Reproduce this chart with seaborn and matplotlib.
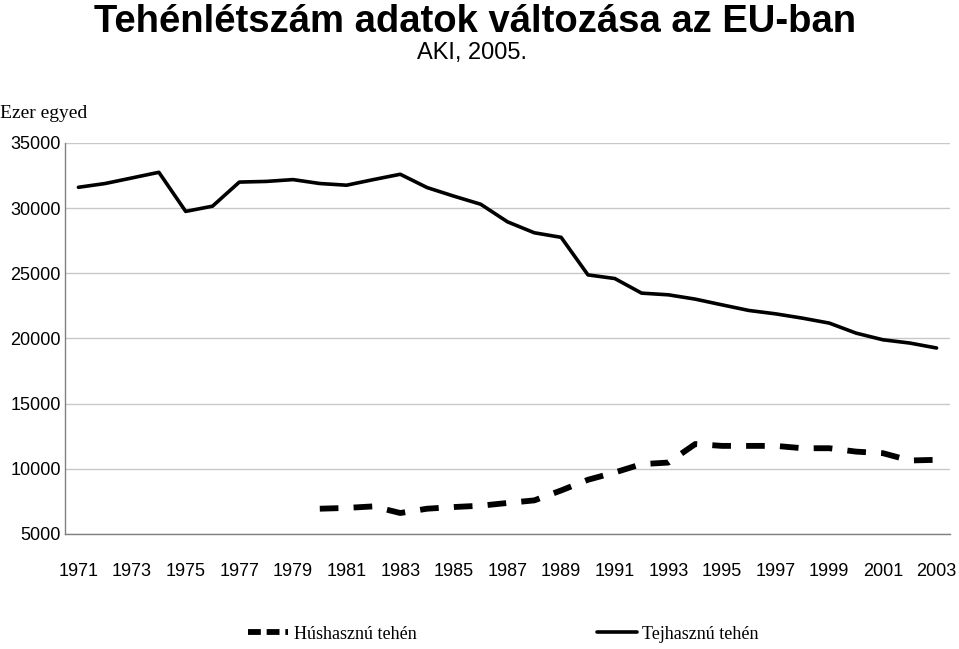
import numpy as np
import pandas as pd
import matplotlib
matplotlib.use("Agg")
from matplotlib import pyplot as plt
from matplotlib.ticker import MultipleLocator, FixedLocator
from matplotlib.lines import Line2D
import seaborn as sns

# data (ezer egyed)
years = list(range(1971, 2004))
tej = [31600, 31890, 32320, 32750, 29750, 30150, 32000, 32050, 32190, 31890,
       31760, 32190, 32600, 31580, 30920, 30300, 28950, 28110, 27760, 24880,
       24600, 23480, 23350, 23020, 22580, 22150, 21890, 21560, 21180, 20410,
       19900, 19650, 19270]
hus = [np.nan] * 9 + [6940, 7000, 7120, 6610, 6940, 7070, 7170, 7380, 7580,
                      8340, 9160, 9720, 10360, 10480, 11900, 11760, 11760,
                      11760, 11580, 11580, 11320, 11200, 10640, 10690]
series_names = ['Húshasznú tehén', 'Tejhasznú tehén']

df = pd.DataFrame({'year': years, series_names[0]: hus, series_names[1]: tej})
long = df.melt(id_vars='year', var_name='tipus', value_name='egyed').dropna()

sns.set_style("white")
plt.rcParams['font.family'] = ['Liberation Sans', 'DejaVu Sans']
plt.rcParams['text.color'] = 'black'
plt.rcParams['xtick.labelcolor'] = 'black'
plt.rcParams['ytick.labelcolor'] = 'black'

fig = plt.figure(figsize=(9.59, 6.49), dpi=100)
ax = fig.add_axes([0.0678, 0.1772, 0.9228, 0.6025])

sns.lineplot(data=long, x='year', y='egyed', hue='tipus', style='tipus',
             hue_order=series_names, style_order=series_names,
             palette={series_names[0]: 'black', series_names[1]: 'black'},
             dashes={series_names[0]: (3.2, 2.6), series_names[1]: ''},
             ax=ax, legend=False)
ax.lines[0].set_linewidth(4.2)
ax.lines[0].set_dash_capstyle('butt')
ax.lines[1].set_linewidth(2.6)

ax.set_xlim(1970.5, 2003.5)
ax.set_ylim(5000, 35000)
ax.yaxis.set_major_locator(MultipleLocator(5000))
ax.grid(axis='y', color='#c8c8c8', linewidth=1)
ax.set_axisbelow(True)

ax.xaxis.set_major_locator(FixedLocator(years[::2]))
ax.xaxis.set_minor_locator(FixedLocator(np.arange(1971.5, 2003.6, 1)))
ax.set_xticklabels([str(y) for y in years[::2]])
ax.tick_params(axis='x', which='major', length=0, pad=21, labelsize=13)
ax.tick_params(axis='x', which='minor', direction='in', length=6, width=1, color='#808080')
ax.tick_params(axis='y', length=0, pad=3, labelsize=13)

for side in ['top', 'right']:
    ax.spines[side].set_visible(False)
for side in ['left', 'bottom']:
    ax.spines[side].set_color('#808080')
    ax.spines[side].set_linewidth(1)

ax.set_xlabel('')
ax.set_ylabel('')

fig.text(0.0, 0.825, 'Ezer egyed', family=['Liberation Serif', 'DejaVu Serif'], fontsize=14, va='center')
fig.text(0.495, 0.966, 'Tehénlétszám adatok változása az EU-ban', ha='center', va='center',
         fontweight='bold', fontsize=27.5)
fig.text(0.492, 0.918, 'AKI, 2005.', ha='center', va='center', fontsize=17)

handles = [Line2D([], [], color='black', linewidth=4.2, dashes=(2.2, 1.0), dash_capstyle='butt'),
           Line2D([], [], color='black', linewidth=2.6)]
fig.legend(handles, series_names, loc='center', bbox_to_anchor=(0.525, 0.023), ncol=2,
           frameon=False, handlelength=2.2, handletextpad=0.3, columnspacing=10,
           prop={'family': ['Liberation Serif', 'DejaVu Serif'], 'size': 13})

fig.savefig('out.png', dpi=100)
